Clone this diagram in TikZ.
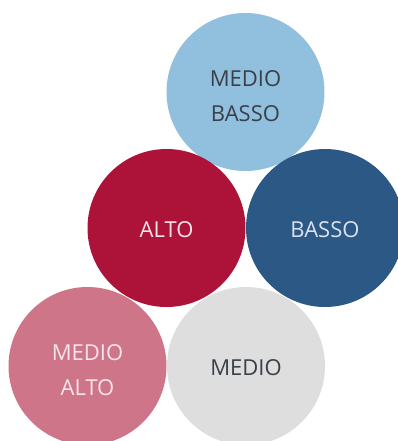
\documentclass[tikz,border=0pt]{standalone}
\usepackage{fontspec}
\setmainfont{Open Sans}
\definecolor{cMB}{RGB}{145,191,222}
\definecolor{cA}{RGB}{173,18,57}
\definecolor{cB}{RGB}{44,88,133}
\definecolor{cMA}{RGB}{207,117,138}
\definecolor{cM}{RGB}{222,222,222}
\definecolor{tDark}{RGB}{58,64,72}
\definecolor{tLight}{RGB}{248,228,233}
\definecolor{tBlue}{RGB}{218,226,236}
\begin{document}
\begin{tikzpicture}[x=1pt,y=-1pt,
  ball/.style={circle,minimum size=158pt,inner sep=0pt},
  lbl/.style={inner sep=0pt,align=center,
    font=\fontsize{22}{35}\selectfont}]
\useasboundingbox (0,0) rectangle (398,441);
\clip (0,0) rectangle (398,441);
\node[ball,fill=cMB] (mb) at (245.5,92) {};
\node[ball,fill=cA] (a) at (166.5,228) {};
\node[ball,fill=cB] (b) at (325,228) {};
\node[ball,fill=cMA] (ma) at (87.5,366) {};
\node[ball,fill=cM] (m) at (246,366) {};
\node[lbl,text=tDark] (tmb) at ([yshift=-4pt]mb.center) {MEDIO\\BASSO};
\node[lbl,text=tLight] (ta) at ([yshift=-1.5pt]a.center) {ALTO};
\node[lbl,text=tBlue] (tb) at ([yshift=-1.5pt]b.center) {BASSO};
\node[lbl,text=tLight] (tma) at ([yshift=-4pt]ma.center) {MEDIO\\ALTO};
\node[lbl,text=tDark] (tm) at ([yshift=-1.5pt]m.center) {MEDIO};
\end{tikzpicture}
\end{document}
